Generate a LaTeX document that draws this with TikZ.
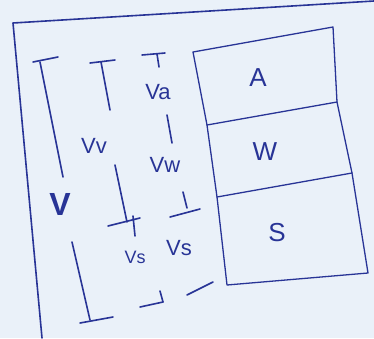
\documentclass[tikz,border=0pt]{standalone}
\usepackage{fontspec}
\setmainfont{Liberation Sans}
\definecolor{inkc}{RGB}{40,52,150}
\definecolor{bgc}{RGB}{234,241,249}
\begin{document}
\begin{tikzpicture}[x=1pt,y=-1pt,
  ink/.style={draw=inkc, line width=1.6pt, line cap=round, line join=round},
  lbl/.style={text=inkc, inner sep=1pt, font=\fontsize{22}{22}\selectfont},
  big/.style={text=inkc, inner sep=1pt, font=\fontsize{26}{26}\selectfont}]
\fill[bgc] (0,0) rectangle (374,338);
\useasboundingbox (0,0) rectangle (374,338);
% outer frame
\coordinate (f1) at (374,1);
\coordinate (f2) at (13,23);
\coordinate (f3) at (42,338);
\draw[ink] (f1) -- (f2) -- (f3);
% phase box
\coordinate (b1) at (193,52);
\coordinate (b2) at (333,27);
\coordinate (d1l) at (207,125);
\coordinate (d1r) at (337,102);
\coordinate (d2l) at (217,197);
\coordinate (d2r) at (352,173);
\coordinate (b3) at (368,273);
\coordinate (b4) at (227,285);
\draw[ink, line width=1.3pt] (b1) -- (d1l) -- (d2l) -- (b4) -- (b3) -- (d2r) -- (d1r) -- (b2) -- cycle;
\draw[ink, line width=1.3pt] (d1l) -- (d1r);
\draw[ink, line width=1.3pt] (d2l) -- (d2r);
\node[big] (A) at (258,78) {A};
\node[big] (W) at (265,152) {W};
\node[big] (S) at (277,233) {S};
% labels
\node[lbl] (Va) at (158,92) {Va};
\node[lbl] (Vv) at (94,146) {Vv};
\node[lbl] (Vw) at (165,165) {Vw};
\node[text=inkc, inner sep=1pt, font=\fontsize{32}{32}\selectfont\bfseries] (V) at (60,204) {V};
\node[lbl, font=\fontsize{18}{18}\selectfont] (vs) at (135,257) {Vs};
\node[lbl] (Vs) at (179,248) {Vs};
% big V bracket
\coordinate (p1a) at (33,62);
\coordinate (p1b) at (58,57);
\coordinate (p1c) at (40,62);
\coordinate (p1d) at (63,177);
\coordinate (p1e) at (72,242);
\coordinate (p1f) at (90,320);
\coordinate (p1g) at (80,323);
\coordinate (p1h) at (113,317);
\draw[ink] (p1a) -- (p1b);
\draw[ink] (p1c) -- (p1d);
\draw[ink] (p1e) -- (p1f);
\draw[ink] (p1g) -- (p1h);
% Vv bracket
\coordinate (p2a) at (90,63);
\coordinate (p2b) at (115,60);
\coordinate (p2c) at (101,62);
\coordinate (p2d) at (110,110);
\coordinate (p2e) at (115,165);
\coordinate (p2f) at (127,222);
\coordinate (p2g) at (108,226);
\coordinate (p2h) at (140,218);
\coordinate (p2i) at (133,216);
\coordinate (p2j) at (135,236);
\coordinate (p2k) at (140,307);
\coordinate (p2l) at (163,302);
\coordinate (p2m) at (160,291);
\draw[ink] (p2a) -- (p2b);
\draw[ink] (p2c) -- (p2d);
\draw[ink] (p2e) -- (p2f);
\draw[ink] (p2g) -- (p2h);
\draw[ink] (p2i) -- (p2j);
\draw[ink] (p2k) -- (p2l);
\draw[ink] (p2m) -- (p2l);
% third column
\coordinate (p3a) at (142,55);
\coordinate (p3b) at (165,53);
\coordinate (p3c) at (157,54);
\coordinate (p3d) at (159,67);
\coordinate (p3e) at (167,115);
\coordinate (p3f) at (172,143);
\coordinate (p3g) at (183,192);
\coordinate (p3h) at (187,208);
\coordinate (p3i) at (170,217);
\coordinate (p3j) at (200,209);
\coordinate (p3k) at (187,295);
\coordinate (p3l) at (213,282);
\draw[ink] (p3a) -- (p3b);
\draw[ink] (p3c) -- (p3d);
\draw[ink] (p3e) -- (p3f);
\draw[ink] (p3g) -- (p3h);
\draw[ink] (p3i) -- (p3j);
\draw[ink] (p3k) -- (p3l);
\end{tikzpicture}
\end{document}
